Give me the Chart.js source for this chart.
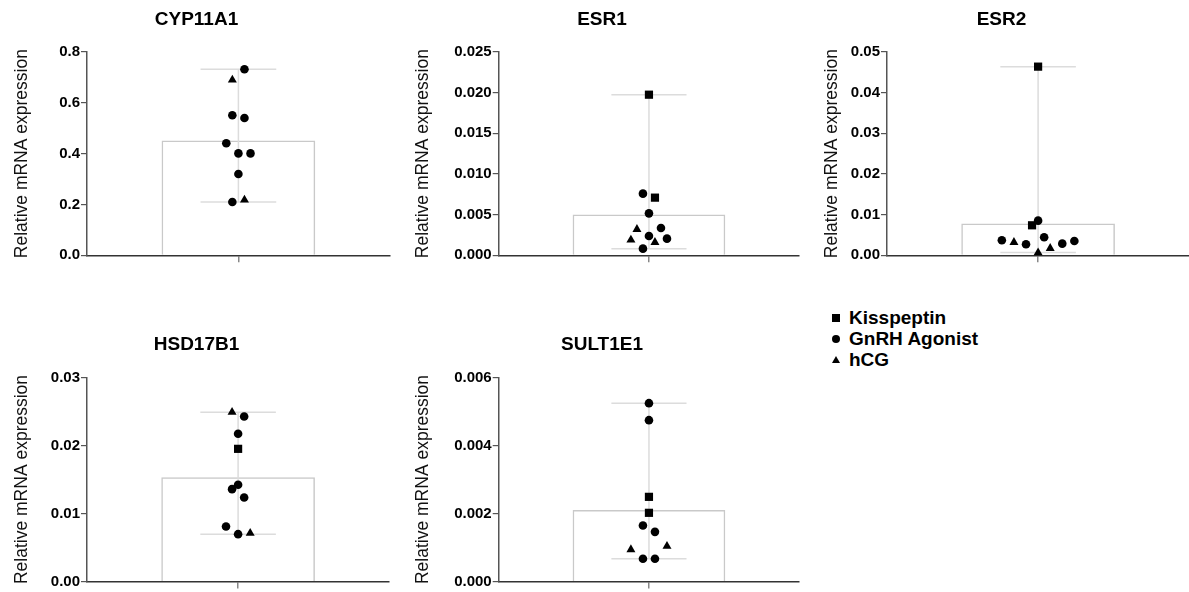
<!DOCTYPE html>
<html>
<head>
<meta charset="utf-8">
<script src="https://cdn.jsdelivr.net/npm/chart.js@4.4.0/dist/chart.umd.min.js"></script>
<style>
  html, body { margin: 0; padding: 0; background: #fff; width: 1189px; height: 592px; overflow: hidden; }
  canvas { position: absolute; }
  #legend { position: absolute; left: 832px; top: 307px; font: bold 19px "Liberation Sans", Arial, sans-serif; color: #000; }
  .row { position: relative; height: 21px; line-height: 21px; padding-left: 17px; white-space: nowrap; }
  .mk { position: absolute; left: 0; background: #000; }
  .sq { top: 7px; width: 8px; height: 8px; }
  .ci { top: 7px; width: 8px; height: 8px; border-radius: 50%; }
  .tr { top: 7px; width: 0; height: 0; background: none; border-left: 4px solid transparent; border-right: 4px solid transparent; border-bottom: 7px solid #000; }
</style>
</head>
<body>
<div id="legend">
  <div class="row"><span class="mk sq"></span>Kisspeptin</div>
  <div class="row"><span class="mk ci"></span>GnRH Agonist</div>
  <div class="row"><span class="mk tr"></span>hCG</div>
</div>
<script>
"use strict";

// ---- data ----
const genes = ['CYP11A1', 'ESR1', 'ESR2', 'HSD17B1', 'SULT1E1'];
const groupKeys = ['K', 'G', 'H']; // Kisspeptin, GnRH Agonist, hCG

// each point: value, treatment group, swarm slot (side-by-side position in the swarm)
const cypValues = [0.732, 0.690, 0.551, 0.540, 0.441, 0.401, 0.401, 0.320, 0.210, 0.218];
const cypGroups = ['G', 'H', 'G', 'G', 'G', 'G', 'G', 'G', 'G', 'H'];
const cypSlots  = [1, -1, -1, 1, -2, 0, 2, 0, -1, 1];

const esr1Values = [0.01975, 0.00758, 0.00709, 0.00516, 0.00320, 0.00336, 0.00238, 0.00189, 0.00205, 0.00082, 0.00160];
const esr1Groups = ['K', 'G', 'K', 'G', 'H', 'G', 'G', 'H', 'G', 'G', 'H'];
const esr1Slots  = [0, -1, 1, 0, -2, 2, 0, -3, 3, -1, 1];

const esr2Values = [0.0464, 0.00852, 0.00738, 0.00369, 0.00320, 0.00270, 0.00443, 0.00172, 0.00287, 0.00352, 0.00066];
const esr2Groups = ['K', 'G', 'K', 'G', 'H', 'G', 'G', 'H', 'G', 'G', 'H'];
const esr2Slots  = [0, 0, -1, -6, -4, -2, 1, 2, 4, 6, 0];

const hsdValues = [0.0249, 0.02426, 0.02172, 0.01951, 0.01422, 0.01358, 0.01235, 0.00809, 0.00696, 0.00710];
const hsdGroups = ['H', 'G', 'G', 'K', 'G', 'G', 'G', 'G', 'G', 'H'];
const hsdSlots  = [-1, 1, 0, 0, 0, -1, 1, -2, 0, 2];

const sultValues = [0.005245, 0.004745, 0.00249, 0.00202, 0.001647, 0.00146, 0.00094, 0.00104, 0.00067, 0.00067];
const sultGroups = ['G', 'G', 'K', 'K', 'G', 'G', 'H', 'H', 'G', 'G'];
const sultSlots  = [0, 0, 0, 0, -1, 1, -3, 3, -1, 1];

// y axis ticks
const yMax      = [0.8, 0.025, 0.05, 0.03, 0.006];
const yStep     = [0.2, 0.005, 0.01, 0.01, 0.002];
const yDecimals = [1, 3, 2, 2, 3];

const panelValues = [cypValues, esr1Values, esr2Values, hsdValues, sultValues];
const panelGroups = [cypGroups, esr1Groups, esr2Groups, hsdGroups, sultGroups];
const panelSlots  = [cypSlots, esr1Slots, esr2Slots, hsdSlots, sultSlots];

// ---- layout (page pixels) ----
const panels = [
  { left: 0,   top: 0,   height: 290, axisX: 87,    plotRight: 393,   titleY: 19.5, plotTop: 52,   plotBottom: 255.3 },
  { left: 401, top: 0,   height: 290, axisX: 498.7, plotRight: 802.7, titleY: 19.5, plotTop: 52,   plotBottom: 255.3 },
  { left: 810, top: 0,   height: 290, axisX: 887,   plotRight: 1193,  titleY: 19.5, plotTop: 52,   plotBottom: 255.3 },
  { left: 0,   top: 295, height: 297, axisX: 87,    plotRight: 393,   titleY: 50,   plotTop: 82.5, plotBottom: 286.5 },
  { left: 401, top: 295, height: 297, axisX: 498.7, plotRight: 802.7, titleY: 50,   plotTop: 82.5, plotBottom: 286.5 }
];

const SLOT = 0.04;          // x units per swarm slot (x axis runs -1..1)
const FONT = '"Liberation Sans", Arial, sans-serif';
const markerStyle = {
  K: { pointStyle: 'rect', radius: 5.8 },
  G: { pointStyle: 'circle', radius: 4.3 },
  H: { pointStyle: 'triangle', radius: 5.2 }
};
const TITLE_SIZE = 19, TITLE_LH = 1.2;

function renderPanel(i) {
  const P = panels[i];
  const vals = panelValues[i], grp = panelGroups[i], slot = panelSlots[i];
  const mean = vals.reduce((a, b) => a + b, 0) / vals.length;
  const lo = Math.min(...vals), hi = Math.max(...vals);

  const canvas = document.createElement('canvas');
  const w = Math.ceil(P.plotRight - P.left + 2);
  canvas.width = w;
  canvas.height = P.height;
  canvas.style.left = P.left + 'px';
  canvas.style.top = P.top + 'px';
  document.body.appendChild(canvas);

  const lh = TITLE_SIZE * TITLE_LH;
  const titlePadTop = P.titleY - lh / 2;
  const titlePadBottom = P.plotTop - P.titleY - lh / 2;

  const errColor = '#dcdcdc';
  const errLine = (pts) => ({
    type: 'line', data: pts, borderColor: errColor, borderWidth: 1.5,
    pointRadius: 0, showLine: true, order: 1, clip: false
  });

  const datasets = [
    {
      type: 'bar', data: [{ x: 0, y: mean }],
      backgroundColor: '#ffffff', borderColor: '#c9c9c9', borderWidth: 1.5,
      barThickness: (P.plotRight - P.axisX) / 2, order: 3
    },
    errLine([{ x: 0, y: lo }, { x: 0, y: hi }]),
    errLine([{ x: -0.25, y: hi }, { x: 0.25, y: hi }]),
    errLine([{ x: -0.25, y: lo }, { x: 0.25, y: lo }])
  ];

  groupKeys.forEach(g => {
    const pts = [];
    vals.forEach((v, j) => { if (grp[j] === g) pts.push({ x: slot[j] * SLOT, y: v }); });
    datasets.push({
      type: 'scatter', data: pts,
      pointStyle: markerStyle[g].pointStyle, pointRadius: markerStyle[g].radius,
      backgroundColor: '#000', borderColor: '#000', borderWidth: 0,
      order: 0, clip: false
    });
  });

  new Chart(canvas, {
    type: 'scatter',
    data: { datasets: datasets },
    options: {
      responsive: false,
      animation: false,
      devicePixelRatio: 1,
      layout: { padding: { left: 0, right: 2, top: 0, bottom: 0 } },
      plugins: {
        legend: { display: false },
        tooltip: { enabled: false },
        title: {
          display: true, text: genes[i], color: '#000',
          font: { family: FONT, size: TITLE_SIZE, weight: 'bold', lineHeight: TITLE_LH },
          padding: { top: titlePadTop, bottom: titlePadBottom }
        }
      },
      scales: {
        x: {
          type: 'linear', min: -1, max: 1, offset: false,
          afterBuildTicks: s => { s.ticks = [{ value: 0 }]; },
          afterFit: s => { s.height = P.height - P.plotBottom; },
          ticks: { callback: () => '', padding: 0 },
          grid: { drawOnChartArea: false, drawTicks: true, tickLength: 7, color: '#888', lineWidth: 1.5, offset: false },
          border: { display: true, color: '#333', width: 1.5 }
        },
        y: {
          min: 0, max: yMax[i],
          afterFit: s => { s.width = P.axisX - P.left; },
          ticks: {
            stepSize: yStep[i], color: '#000', padding: 1,
            font: { family: FONT, size: 15, weight: 'bold' },
            callback: v => Number(v).toFixed(yDecimals[i])
          },
          grid: { drawOnChartArea: false, drawTicks: true, tickLength: 6, color: '#555', lineWidth: 1.2 },
          border: { display: true, color: '#555', width: 1.5 },
          title: {
            display: true, text: 'Relative mRNA expression', color: '#111',
            font: { family: FONT, size: 17.5, weight: 'normal', lineHeight: 1.2 },
            padding: { top: 12, bottom: 0 }
          }
        }
      }
    }
  });
}

for (let i = 0; i < genes.length; i++) renderPanel(i);
</script>
</body>
</html>
